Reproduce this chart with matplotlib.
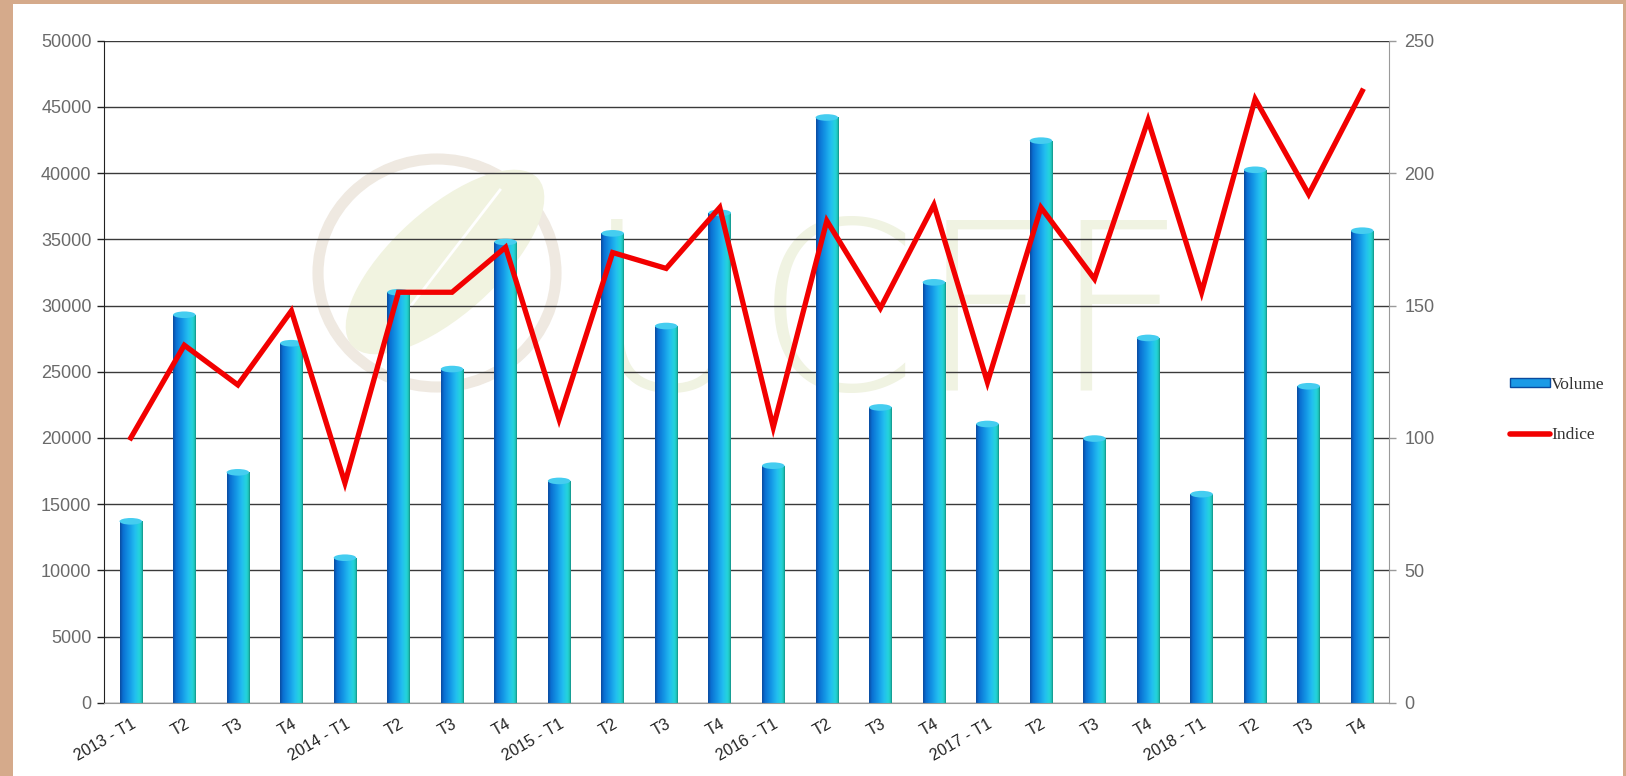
import numpy as np
import matplotlib
matplotlib.use("Agg")
import matplotlib.pyplot as plt
import matplotlib.patches as mpatches
import matplotlib.transforms as mtransforms
from matplotlib.colors import LinearSegmentedColormap
from matplotlib.lines import Line2D

labels = ["2013 - T1", "T2", "T3", "T4",
          "2014 - T1", "T2", "T3", "T4",
          "2015 - T1", "T2", "T3", "T4",
          "2016 - T1", "T2", "T3", "T4",
          "2017 - T1", "T2", "T3", "T4",
          "2018 - T1", "T2", "T3", "T4"]
volume = [13700, 29300, 17400, 27150,
          10950, 31000, 25200, 34800,
          16750, 35450, 28450, 37000,
          17900, 44200, 22300, 31750,
          21050, 42450, 19950, 27550,
          15750, 40250, 23900, 35650]
indice = [100, 135, 120, 148,
          83, 155, 155, 172,
          107, 170, 164, 187,
          104, 182, 149, 188,
          121, 187, 160, 220,
          155, 228, 192, 231]

W, H = 1626, 776
fig = plt.figure(figsize=(W / 100, H / 100), dpi=100, facecolor="#d5aa8b")
# white panel inside the tan frame
fig.patches.append(mpatches.Rectangle((13 / W, 0), (1623 - 13) / W, (H - 4) / H,
                                      transform=fig.transFigure, facecolor="white",
                                      edgecolor="none", zorder=-5))

ax = fig.add_axes([104 / W, 73.3 / H, (1389 - 104) / W, (702.7 - 40.7) / H])
ax.patch.set_alpha(0)
ax2 = ax.twinx()

x = np.arange(len(labels))
bw = 0.42

# faint logo watermark (pixel coordinates)
px = mtransforms.IdentityTransform()
ring = mpatches.Ellipse((437, H - 273), 238, 228, transform=px,
                        facecolor="none", edgecolor="#efe9e1", lw=8, zorder=0.2)
leaf = mpatches.Ellipse((445, H - 262), 250, 105, angle=42, transform=px,
                        facecolor="#f1f3e0", edgecolor="none", zorder=0.2)
ax.add_patch(ring)
ax.add_patch(leaf)
ax.plot([400, 500], [H - 320, H - 190], transform=px, color="white", lw=2, zorder=0.22)
ax.text(585 / W, 1 - 390 / H, "UCFF", transform=fig.transFigure, fontsize=168,
        family="DejaVu Sans", fontweight="light", color="#f0f3e2", zorder=0.25,
        ha="left", va="baseline")

# bars with a horizontal gradient
cmap = LinearSegmentedColormap.from_list("cyl", [
    (0.0, "#0a4a9e"), (0.12, "#0a6fd2"), (0.4, "#1497e6"),
    (0.65, "#22bdf0"), (0.85, "#24d4dc"), (0.95, "#1fc4b8"), (1.0, "#128a80")])
grad = np.linspace(0, 1, 64).reshape(1, -1)
bars = ax.bar(x, volume, width=bw, color="none", edgecolor="none", zorder=2)
for b in bars:
    x0, w, h = b.get_x(), b.get_width(), b.get_height()
    im = ax.imshow(grad, cmap=cmap, aspect="auto", extent=(x0, x0 + w, 0, h),
                   zorder=2, interpolation="bicubic")
    im.set_clip_path(b)
    cap = mpatches.Ellipse((x0 + w / 2, h), w, 500, facecolor="#45cdf0",
                           edgecolor="none", zorder=2.1)
    ax.add_patch(cap)

ax.set_xlim(-0.5, len(labels) - 0.5)
ax.set_ylim(0, 50000)
ax.set_yticks(np.arange(0, 50001, 5000))
ax.set_axisbelow(True)
ax.yaxis.grid(True, color="#3a3a3a", lw=1.0)
ax.set_xticks(x)
ax.set_xticklabels(labels, rotation=30, ha="right", rotation_mode="anchor",
                   fontsize=11.5, color="#222222", family="Liberation Sans")
shift = mtransforms.ScaledTranslation(-6 / 100, 0, fig.dpi_scale_trans)
for t in ax.get_xticklabels():
    t.set_transform(t.get_transform() + shift)
ax.tick_params(axis="x", length=0, pad=10)
ax.tick_params(axis="y", length=5, width=1, color="#222222", labelsize=13,
               labelcolor="#6a6a6a", pad=4)
for t in ax.get_yticklabels():
    t.set_family("Liberation Sans")

ax.spines["top"].set_visible(False)
ax.spines["right"].set_visible(False)
ax.spines["left"].set_color("#222222")
ax.spines["bottom"].set_color("#9a9a9a")

ax2.plot(x, indice, color="#f20000", lw=3.8, solid_joinstyle="miter", zorder=3)
ax2.set_ylim(0, 250)
ax2.set_yticks(np.arange(0, 251, 50))
ax2.tick_params(axis="y", length=5, width=1, color="#9a9a9a", labelsize=13,
                labelcolor="#6a6a6a", pad=6)
for t in ax2.get_yticklabels():
    t.set_family("Liberation Sans")
ax2.spines["top"].set_visible(False)
ax2.spines["left"].set_visible(False)
ax2.spines["bottom"].set_visible(False)
ax2.spines["right"].set_color("#9a9a9a")

handles = [mpatches.Patch(facecolor="#1a9ae6", edgecolor="#0a4a9e", label="Volume"),
           Line2D([], [], color="#f20000", lw=4, solid_capstyle="round", label="Indice")]
fig.legend(handles=handles, loc="center left", bbox_to_anchor=(1494 / W, 1 - 410 / H),
           frameon=False, handlelength=2.3, handleheight=0.5, handletextpad=0.1,
           labelspacing=2.0, prop={"family": "Liberation Serif", "size": 12.5},
           labelcolor="#333333")

fig.savefig("out.png", dpi=100, facecolor=fig.get_facecolor())
